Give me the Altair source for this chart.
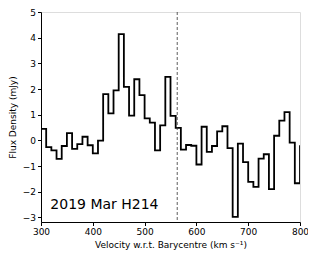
import altair as alt
import pandas as pd

# bin left edges (km/s) and flux density (mJy)
velocity = [300, 310, 320, 330, 340, 350, 360, 370, 380, 390,
            400, 410, 420, 430, 440, 450, 460, 470, 480, 490,
            500, 510, 520, 530, 540, 550, 560, 570, 580, 590,
            600, 610, 620, 630, 640, 650, 660, 670, 680, 690,
            700, 710, 720, 730, 740, 750, 760, 770, 780, 790,
            800, 810]
flux = [0.45, -0.26, -0.39, -0.72, -0.22, 0.28, -0.33, -0.15, 0.14, -0.19,
        -0.51, -0.01, 1.80, 1.05, 1.95, 4.14, 2.08, 0.96, 2.38, 1.76,
        0.86, 0.69, -0.39, 0.58, 2.47, 0.95, 0.49, -0.36, -0.18, -0.21,
        -0.94, 0.53, -0.45, -0.22, 0.35, 0.55, -0.30, -2.98, -0.13, -0.85,
        -1.62, -1.81, -0.71, -0.54, -1.90, 0.18, 0.77, 1.10, -0.09, -1.67,
        -0.23, -0.23]

x_ticks = [300, 400, 500, 600, 700, 800]
y_ticks = [-3, -2, -1, 0, 1, 2, 3, 4, 5]
x_domain = [300, 800]
y_domain = [-3.18, 5]
systemic = 563
label_text = "2019 Mar H214"
label_pos = (318, -2.66)

df = pd.DataFrame({"v": velocity, "f": flux})
FONT = "DejaVu Sans"

xscale = alt.Scale(domain=x_domain, nice=False, zero=False)
yscale = alt.Scale(domain=y_domain, nice=False, zero=False)

common = dict(grid=False, labelFontSize=9, titleFontSize=9, labelFont=FONT, titleFont=FONT,
              titleFontWeight="normal", labelColor="black", titleColor="black",
              tickColor="black", domainColor="black", tickSize=3.5, labelPadding=2,
              format="d", labelFlush=False, labelOverlap=False, labelBound=False)

xaxis = alt.Axis(values=x_ticks, title="Velocity w.r.t. Barycentre (km s⁻¹)",
                 titlePadding=4, **common)
yaxis = alt.Axis(values=y_ticks, title="Flux Density (mJy)", titlePadding=5, **common)

X = alt.X("v:Q", scale=xscale, axis=xaxis)
Y = alt.Y("f:Q", scale=yscale, axis=yaxis)

line = alt.Chart(df).mark_line(interpolate="step-after", color="black", strokeWidth=1.8,
                               clip=True).encode(x=X, y=Y)

rule = alt.Chart(pd.DataFrame({"v": [systemic]})).mark_rule(
    color="#333333", strokeWidth=0.8, strokeDash=[3, 2]).encode(x=X)

text = alt.Chart(pd.DataFrame({"v": [label_pos[0]], "f": [label_pos[1]], "t": [label_text]})).mark_text(
    align="left", baseline="alphabetic", fontSize=14, font=FONT, color="black").encode(
    x=X, y=Y, text="t:N")

chart = alt.layer(line, rule, text).properties(
    width=259, height=210,
    autosize=alt.AutoSizeParams(type="none"),
    padding={"left": 33, "top": 4, "right": 8, "bottom": 32},
).configure_view(stroke="black", strokeWidth=1).configure(background="white")

chart.save("out.html", embed_options={"renderer": "svg", "actions": False})
